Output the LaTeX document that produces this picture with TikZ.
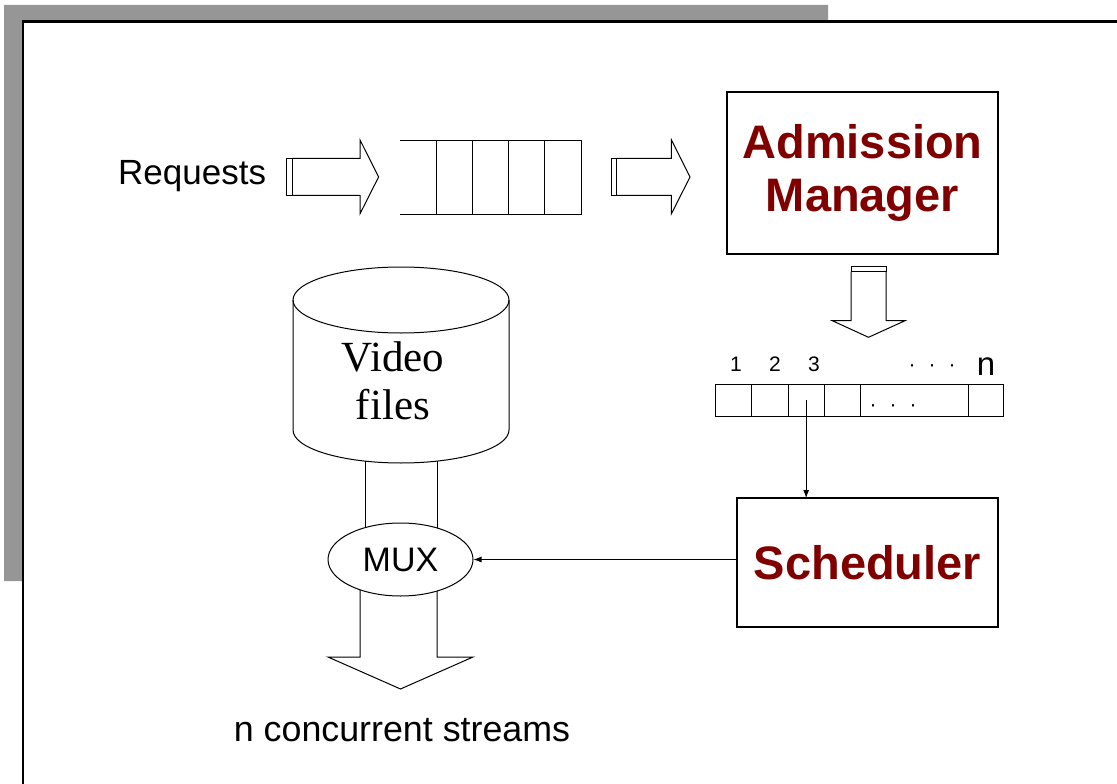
\documentclass[tikz,border=0pt]{standalone}
\usepackage{fontspec}
\setmainfont{Liberation Sans}
\newfontfamily\timesfont{Liberation Serif}
\usetikzlibrary{shapes.geometric,arrows.meta,calc}
\definecolor{shadowgray}{RGB}{150,150,150}
\definecolor{darkred}{RGB}{128,0,0}
\begin{document}
\begin{tikzpicture}[x=1pt,y=-1pt,
  outline/.style={draw, line width=1pt, line join=miter},
  box/.style={draw, line width=1.3pt, inner sep=0pt, outer sep=0pt},
  bigtxt/.style={font=\fontsize{47}{50}\selectfont\bfseries, text=darkred},
  txt/.style={font=\fontsize{35}{40}\selectfont, inner sep=0pt},
  num/.style={font=\fontsize{21}{24}\selectfont, inner sep=0pt},
  cell/.style={draw, line width=1pt, minimum height=31.7pt, inner sep=0pt, outer sep=0pt},
  link/.style={line width=0.9pt, -{Latex[length=8pt,width=6pt]}}]
\useasboundingbox (0,0) rectangle (1117,784);
% slide frame with shadow
\fill[shadowgray] (4,5) -- (828,5) -- (828,21) -- (22,21) -- (22,581) -- (4,581) -- cycle;
\draw[line width=2.5pt] (1125,21.5) -- (23,21.5) -- (23,790);

% Requests and first block arrow
\node[txt, anchor=base west] (req) at (118,184) {Requests};
\draw[outline] (286.4,158.3) rectangle (292.5,195.4);
\draw[outline] (292.5,158.3) -- (360,158.3) -- (360,139.9) -- (378.6,177) -- (360,213.8) -- (360,195.4) -- (292.5,195.4);

% queue
\draw[outline] (400.4,140) -- (581,140) -- (581,214.5) -- (400.4,214.5);
\foreach \xx in {436.8,472.4,508.7,544.7} \draw[outline] (\xx,140) -- (\xx,214.5);

% second block arrow
\draw[outline] (611.7,158.3) rectangle (616.6,195.4);
\draw[outline] (616.6,158.3) -- (671.4,158.3) -- (671.4,139.9) -- (690,177) -- (671.4,213.8) -- (671.4,195.4) -- (616.6,195.4);

% Admission manager
\node[box, bigtxt, align=center, minimum width=271pt, minimum height=162pt] (adm) at (862.5,173) {Admission\\[3pt]Manager};

% down block arrow
\draw[outline] (851,266) rectangle (886,271.7);
\draw[outline] (851,271.7) -- (851,320.7) -- (832.3,320.7) -- (868.5,337.3) -- (905,320.7) -- (886,320.7) -- (886,271.7);

% stream table
\node[num, anchor=base] (n1) at (736,371.7) {1};
\node[num, anchor=base] (n2) at (775,371.7) {2};
\node[num, anchor=base] (n3) at (814,371.7) {3};
\node[num, anchor=base] (ndots) at (932,371.7) {·\hspace{13pt}·\hspace{13pt}·};
\node[font=\fontsize{33}{36}\selectfont, inner sep=0pt, anchor=base] (nn) at (986,375) {n};
\node[cell, minimum width=36.7pt] (c1) at (733.35,400.15) {};
\node[cell, minimum width=36.6pt] (c2) at (770,400.15) {};
\node[cell, minimum width=35.7pt] (c3) at (806.15,400.15) {};
\node[cell, minimum width=36pt] (c4) at (842,400.15) {};
\node[cell, minimum width=108.3pt] (c5) at (914.15,400.15) {};
\node[cell, minimum width=35pt] (c6) at (985.8,400.15) {};
\node[num, anchor=base] (cdots) at (893,411.7) {·\hspace{13pt}·\hspace{13pt}·};

% Scheduler
\node[box, bigtxt, minimum width=261pt, minimum height=129pt] (sched) at (867.5,562.5) {Scheduler};
\draw[link] (c3.center) -- (c3.center |- sched.north);

% video files cylinder
\draw[outline] (401,300) ellipse [x radius=108, y radius=33];
\draw[outline] (293,300) -- (293,430) arc[start angle=180, end angle=0, x radius=108, y radius=33] -- (509,300);
\node[font=\timesfont\fontsize{43}{48}\selectfont, align=center, inner sep=0pt] (vid) at (393,381) {Video\\files};

% MUX
\node[draw, ellipse, line width=1pt, minimum width=145pt, minimum height=73pt, inner sep=0pt, font=\fontsize{34}{40}\selectfont] (mux) at (400.5,559.5) {MUX};
\draw[outline] (365,461) -- (365,528);
\draw[outline] (437,461) -- (437,528);
\draw[link] (sched.west |- mux.east) -- (mux.east);

% output arrow
\draw[outline] (360,590) -- (360,657) -- (328,657) -- (400.5,689) -- (473,657) -- (437,657) -- (437,591);
\node[font=\fontsize{35.8}{40}\selectfont, inner sep=0pt, anchor=base] (out) at (402,741) {n concurrent streams};
\end{tikzpicture}
\end{document}
